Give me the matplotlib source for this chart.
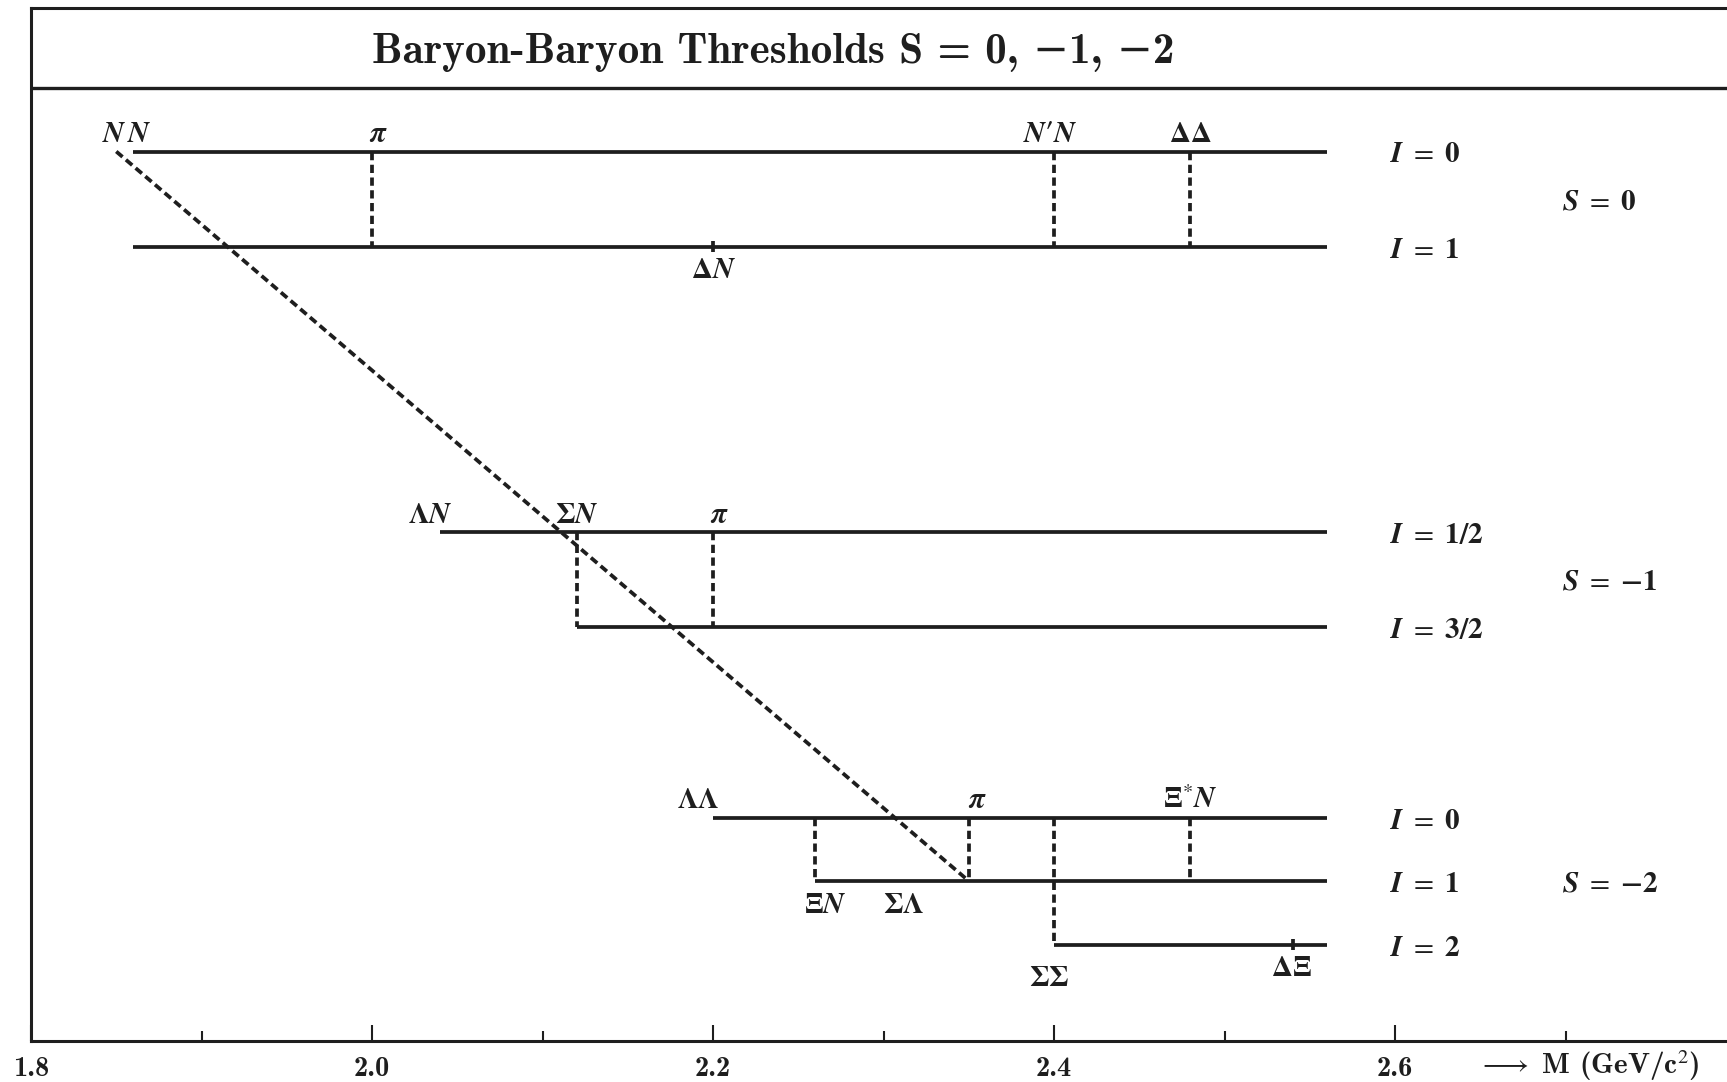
import matplotlib.pyplot as plt
import numpy as np

# Baryon-baryon threshold diagram, S = 0, -1, -2
plt.rcParams['mathtext.fontset'] = 'stix'

# ---- data: thresholds in GeV/c^2 ----
line_end = 2.56

# S = 0
s0_starts = [1.86, 1.86]
s0_iso = [r'$\mathbfit{I}\ =\ \mathbf{0}$', r'$\mathbfit{I}\ =\ \mathbf{1}$']
s0_links = [(2.00, 0, 1), (2.40, 0, 1), (2.48, 0, 1)]
s0_marks = [(2.20, 1)]
s0_above = [(1.856, r'$\mathbfit{N\,N}$'), (2.004, r'$\mathbfit{\pi}$'),
            (2.398, r"$\mathbfit{N}\mathbf{\prime}\mathbfit{N}$"), (2.48, r'$\mathbf{\Delta\Delta}$')]
s0_below = [(2.20, 1, r'$\mathbf{\Delta}\mathbfit{N}$')]

# S = -1
s1_starts = [2.04, 2.12]
s1_iso = [r'$\mathbfit{I}\ =\ \mathbf{1/2}$', r'$\mathbfit{I}\ =\ \mathbf{3/2}$']
s1_links = [(2.12, 0, 1), (2.20, 0, 1)]
s1_marks = []
s1_above = [(2.034, r'$\mathbf{\Lambda}\mathbfit{N}$'), (2.12, r'$\mathbf{\Sigma}\mathbfit{N}$'),
            (2.204, r'$\mathbfit{\pi}$')]
s1_below = []

# S = -2
s2_starts = [2.20, 2.26, 2.40]
s2_iso = [r'$\mathbfit{I}\ =\ \mathbf{0}$', r'$\mathbfit{I}\ =\ \mathbf{1}$',
          r'$\mathbfit{I}\ =\ \mathbf{2}$']
s2_links = [(2.26, 0, 1), (2.35, 0, 1), (2.40, 0, 2), (2.48, 0, 1)]
s2_marks = [(2.54, 2)]
s2_above = [(2.191, r'$\mathbf{\Lambda\Lambda}$'), (2.355, r'$\mathbfit{\pi}$'),
            (2.48, r'$\mathbf{\Xi}^{*}\mathbfit{N}$')]
s2_below = [(2.266, 1, r'$\mathbf{\Xi}\mathbfit{N}$'), (2.312, 1, r'$\mathbf{\Sigma\Lambda}$'),
            (2.397, 2, r'$\mathbf{\Sigma\Sigma}$'), (2.539, 2, r'$\mathbf{\Delta\Xi}$')]

strangeness = [r'$\mathbfit{S}\ =\ \mathbf{0}$', r'$\mathbfit{S}\ =\ \mathbf{-1}$',
               r'$\mathbfit{S}\ =\ \mathbf{-2}$']

# NN -> Sigma Lambda diagonal
diag_mass = [1.85, 2.35]

major_ticks = [1.8, 2.0, 2.2, 2.4, 2.6]
major_labels = ['1.8', '2.0', '2.2', '2.4', '2.6']
minor_ticks = [1.9, 2.1, 2.3, 2.5, 2.7]

# ---- layout (vertical levels in pixels from the top) ----
row_y = [[151.5, 246.5], [532.3, 626.7], [818, 881, 944.5]]
top_y, sep_y, bot_y = 8, 87.5, 1040.5

ink = '#1e1e1e'
lw = 2.7
dlw = 2.7
dash = (0, (2.2, 1.2))
fs = 21


def main():
    fig = plt.figure(figsize=(17.27, 10.82), dpi=100)
    W, H = 1727, 1082
    left = 31 / W
    width = 1705 / W
    ax = fig.add_axes([left, (H - bot_y) / H, width, (bot_y - top_y) / H])
    ax.set_xlim(1.8, 2.8)
    ax.set_ylim(bot_y, top_y)

    for side in ['left', 'bottom', 'top', 'right']:
        ax.spines[side].set_linewidth(2.2)
        ax.spines[side].set_color(ink)

    ax.set_yticks([])
    ax.set_xticks(major_ticks)
    ax.set_xticklabels(major_labels, fontfamily='cmb10', fontsize=20.5)
    ax.set_xticks(minor_ticks, minor=True)
    ax.tick_params(axis='x', which='major', direction='in', length=11.5, width=1.5,
                   pad=11, colors=ink)
    ax.tick_params(axis='x', which='minor', direction='in', length=7, width=1.5, colors=ink)

    # title box
    ax.axhline(sep_y, color=ink, lw=2.4)
    ax.text(2.0, 62.7, 'Baryon-Baryon Thresholds S = 0, \u22121, \u22122',
            fontfamily=['cmb10', 'DejaVu Serif'], fontsize=31, ha='left', va='baseline',
            color=ink)

    blocks = [
        (s0_starts, s0_iso, s0_links, s0_marks, s0_above, s0_below),
        (s1_starts, s1_iso, s1_links, s1_marks, s1_above, s1_below),
        (s2_starts, s2_iso, s2_links, s2_marks, s2_above, s2_below),
    ]

    for b, (starts, iso, links, marks, above, below) in enumerate(blocks):
        ys = row_y[b]
        for y, x0, name in zip(ys, starts, iso):
            ax.plot([x0, line_end], [y, y], color=ink, lw=lw, solid_capstyle='butt')
            ax.text(2.597, y + 3, name, fontsize=fs, ha='left', va='center', color=ink)
        for x, r0, r1 in links:
            ax.plot([x, x], [ys[r0], ys[r1]], color=ink, lw=dlw, linestyle=dash)
        for x, r in marks:
            ax.plot([x, x], [ys[r] - 5.5, ys[r] + 5.5], color=ink, lw=lw, solid_capstyle='butt')
        for x, name in above:
            ax.text(x, ys[0] - 9.5, name, fontsize=fs, ha='center', va='baseline', color=ink)
        for x, r, name in below:
            off = 41 if name == r'$\mathbf{\Sigma\Sigma}$' else 32
            ax.text(x, ys[r] + off, name, fontsize=fs, ha='center', va='baseline', color=ink)
        mid = (ys[0] + ys[-1]) / 2
        ax.text(2.698, mid + 2.5, strangeness[b], fontsize=fs, ha='left', va='center', color=ink)

    # diagonal from NN to the Sigma-Lambda threshold
    ax.plot(diag_mass, [row_y[0][0], row_y[2][1]], color=ink, lw=dlw, linestyle=dash)

    # axis caption
    ax.text(2.6487, 1074, r'$\longrightarrow$ M (GeV/c$^{2}$)', fontfamily='cmb10',
            fontsize=21, ha='left', va='baseline', color=ink, clip_on=False)

    fig.savefig('out.png', dpi=100)


if __name__ == "__main__":
    main()
